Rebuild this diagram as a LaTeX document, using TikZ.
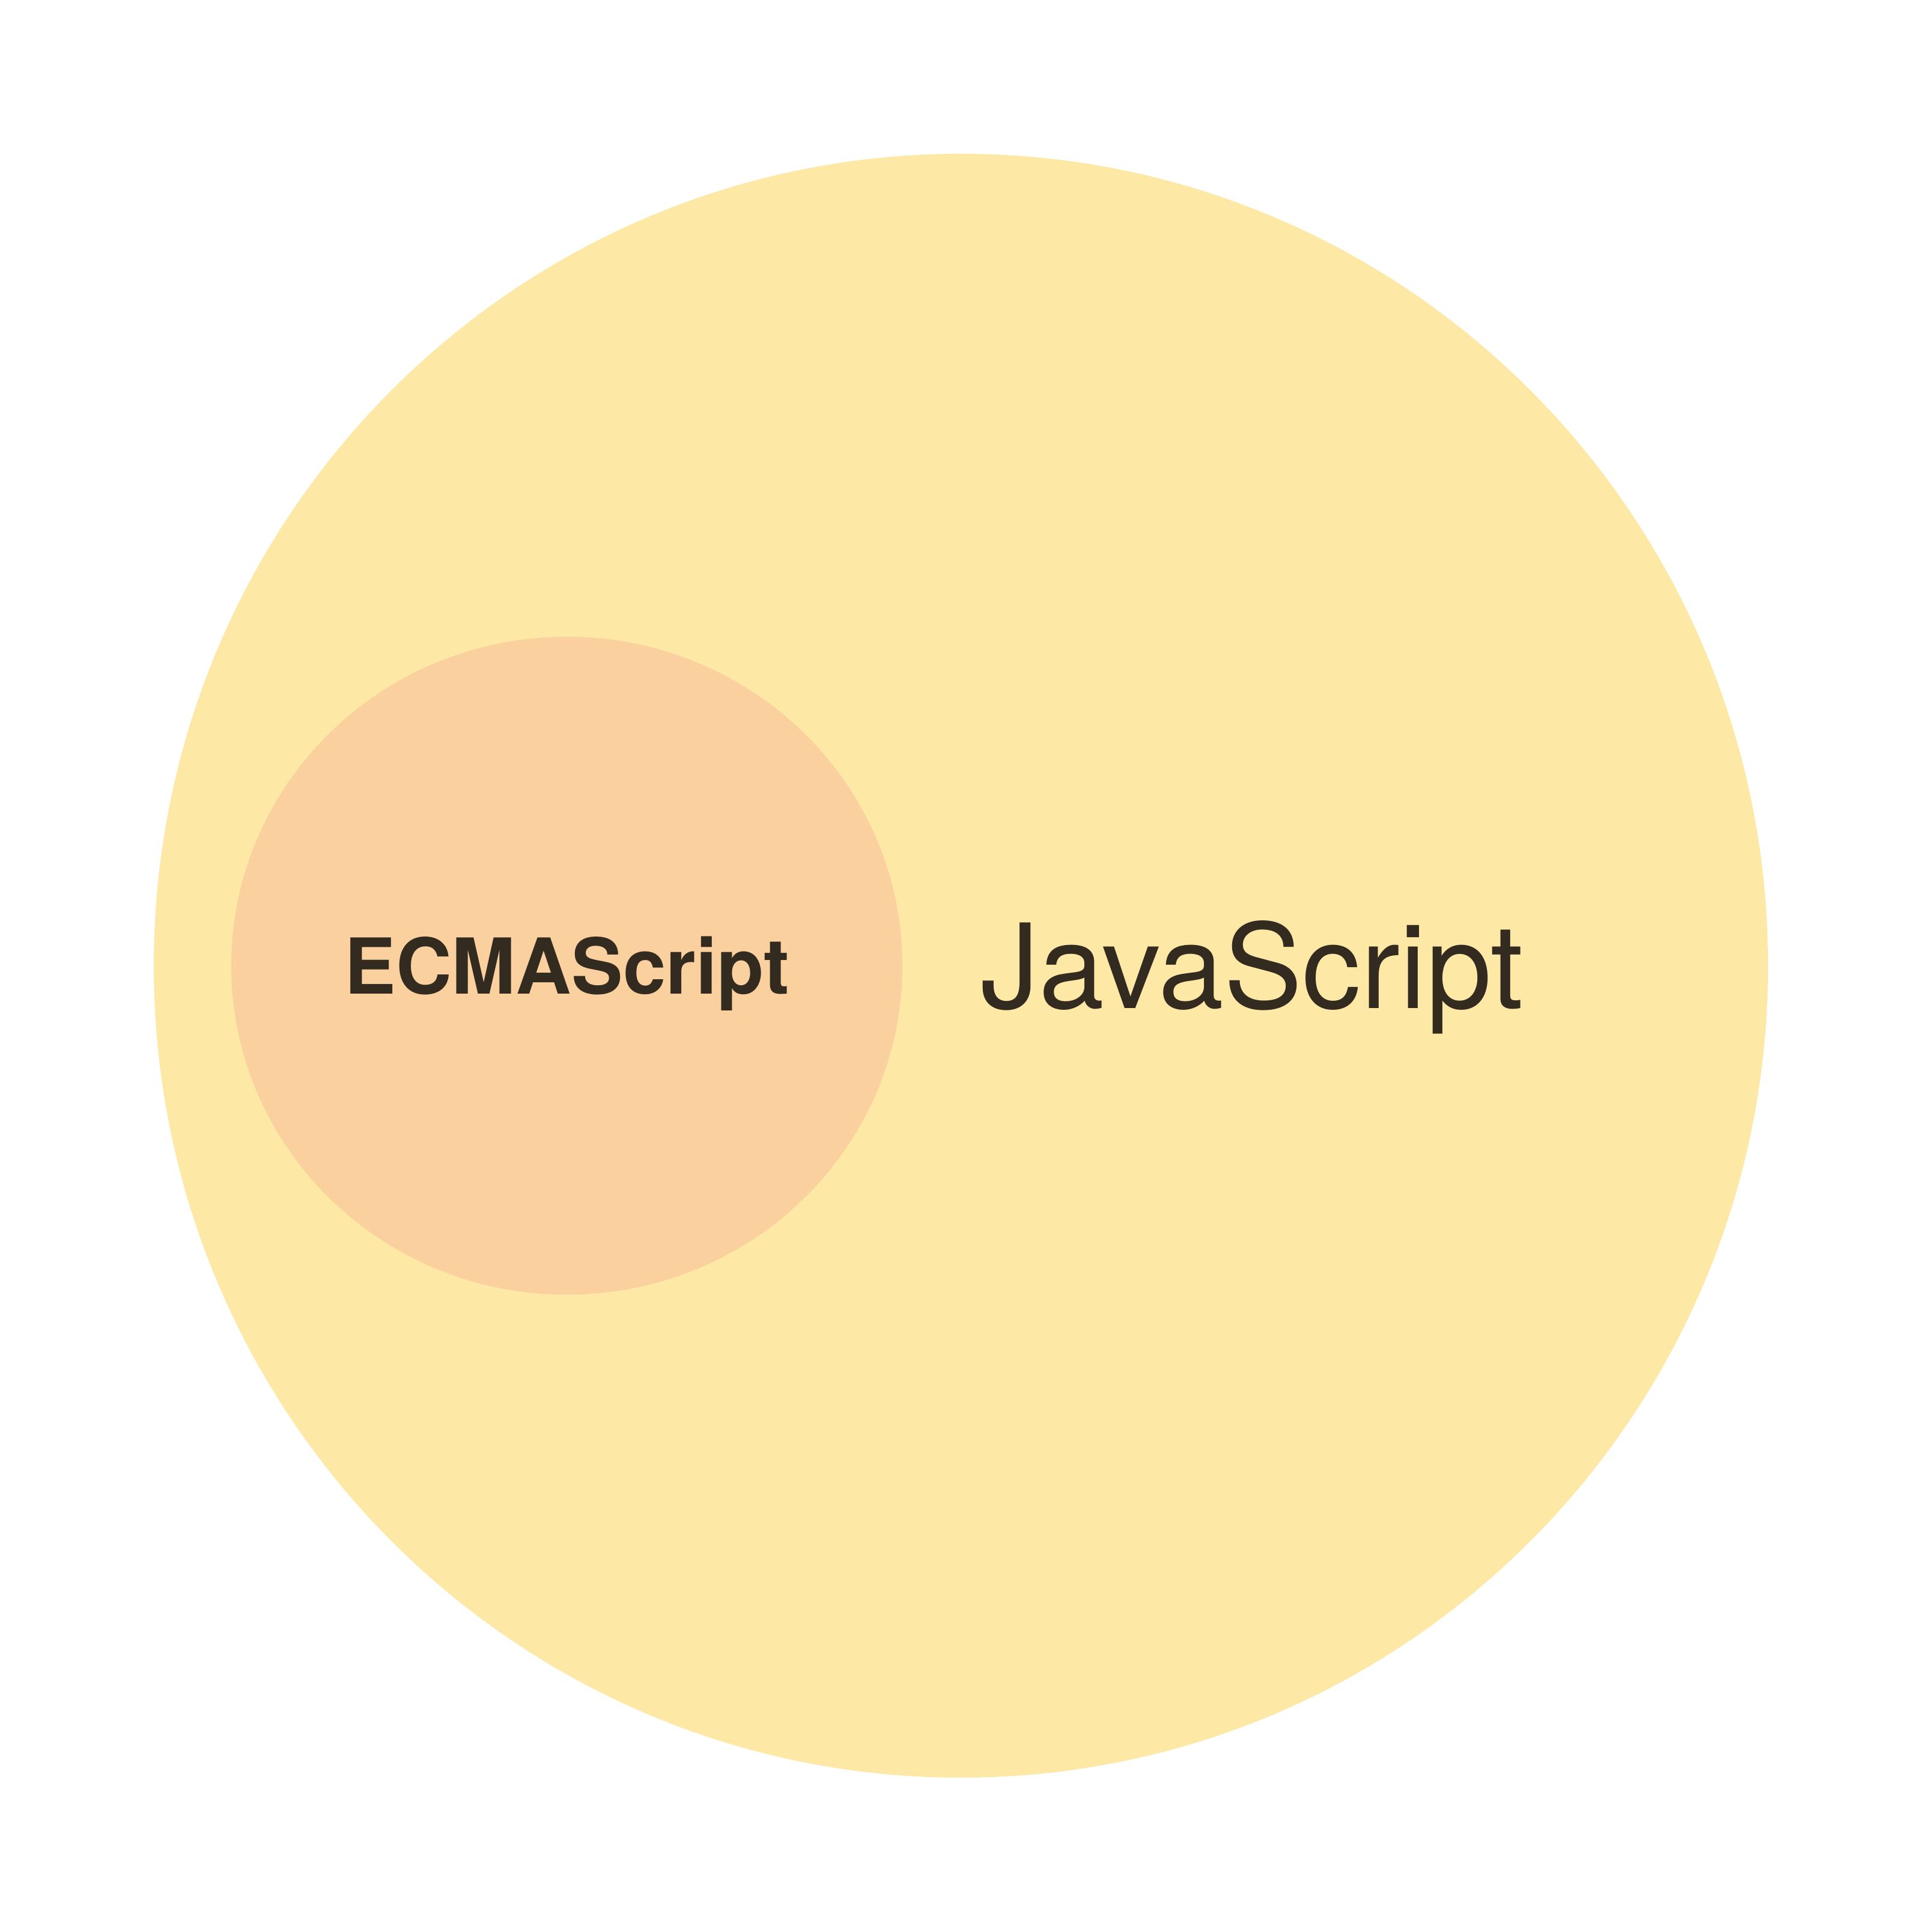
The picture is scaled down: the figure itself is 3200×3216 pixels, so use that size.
\documentclass[tikz,border=0pt]{standalone}
\usepackage{fontspec}
\setmainfont{TeX Gyre Heros}
\usetikzlibrary{positioning}
\definecolor{jsfill}{HTML}{FDE8A6}
\definecolor{esfill}{HTML}{FAD09E}
\definecolor{ink}{HTML}{332B20}
\tikzset{
  outer/.style={fill=jsfill},
  inner/.style={fill=esfill},
  bigname/.style={text=ink,inner sep=0pt,anchor=base,font=\fontsize{55.6}{60}\selectfont},
  smallname/.style={text=ink,inner sep=0pt,anchor=base,font=\fontsize{36.5}{42}\selectfont\bfseries},
}
\begin{document}
\begin{tikzpicture}[x=0.01cm,y=-0.01cm]
    \useasboundingbox (0,0) rectangle (3200,3216);
    % ---------- the two sets ----------
    \fill[outer] (1599.5,1607.5) ellipse [x radius=1343.5, y radius=1351.5];
    \fill[inner] (943.5,1607.5) ellipse [x radius=558.5, y radius=547.5];
    % ---------- names ----------
    \node[smallname] (es) at (944,1654) {ECMAScript};
    \node[bigname] (js) at (2084,1678) {JavaScript};
\end{tikzpicture}
\end{document}
